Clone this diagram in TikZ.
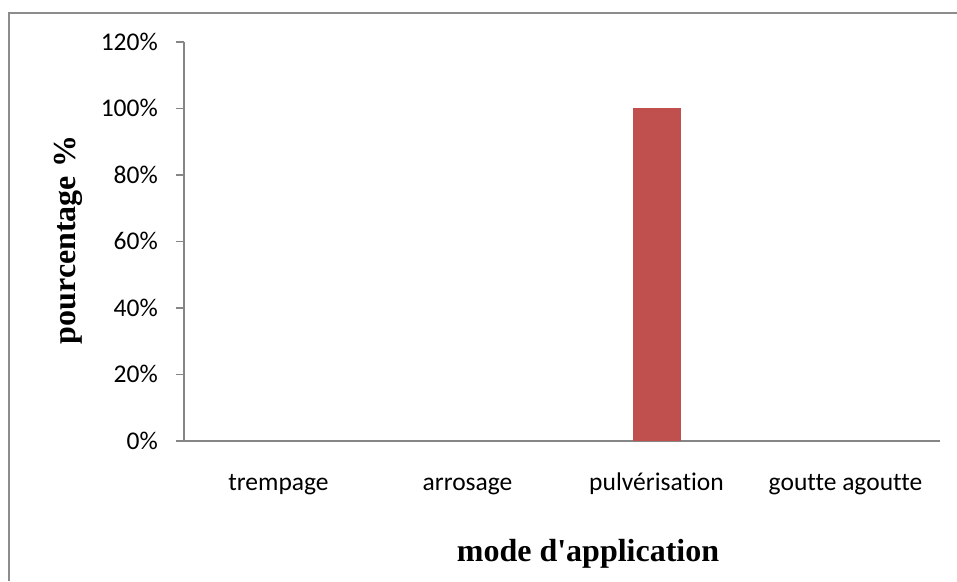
\documentclass[tikz,border=0pt]{standalone}
\usepackage{fontspec}
\setmainfont[Ligatures=TeXOff]{Liberation Serif}
\newfontfamily\calib[Ligatures=NoCommon]{Carlito}
\definecolor{axisgray}{HTML}{868686}
\definecolor{framegray}{HTML}{8C8C8C}
\definecolor{barred}{HTML}{C0504D}
\begin{document}
\begin{tikzpicture}[x=1pt,y=-1pt,
 axisline/.style={draw=axisgray,line width=1.5pt},
 frameline/.style={draw=framegray,line width=2pt},
 ticklab/.style={font=\calib\fontsize{25.5}{30}\selectfont,anchor=base east,inner sep=0},
 catlab/.style={font=\calib\fontsize{25.5}{30}\selectfont,anchor=base,inner sep=0},
 titlelab/.style={font=\bfseries\fontsize{32}{38}\selectfont,inner sep=0}]
\useasboundingbox (0,0) rectangle (957,581);
\draw[frameline] (9,581) -- (9,13) -- (957,13);
% axes
\coordinate (otop) at (184,42);
\coordinate (origin) at (184,441);
\coordinate (xend) at (940,441);
\draw[axisline] (otop) -- (origin) -- (xend);
\foreach \i/\lab in {0/0\%,1/20\%,2/40\%,3/60\%,4/80\%,5/100\%,6/120\%}{
  \coordinate (tk\i) at (184,441-66.5*\i);
  \coordinate (tl\i) at (176,441-66.5*\i);
  \draw[axisline] (tl\i) -- (tk\i);
  \node[ticklab] (lab\i) at (158,449-66.5*\i) {\lab};
}
% bar
\fill[barred] (633,441) rectangle (681,108);
% category labels
\node[catlab] (c1) at (278.5,490) {trempage};
\node[catlab] (c2) at (467.5,490) {arrosage};
\node[catlab] (c3) at (656.5,490) {pulvérisation};
\node[catlab] (c4) at (845.5,490) {goutte agoutte};
% axis titles
\node[titlelab,anchor=base] (xt) at (588,561) {mode d'application};
\node[titlelab,rotate=90] (yt) at (68,240) {pourcentage \%};
\end{tikzpicture}
\end{document}
